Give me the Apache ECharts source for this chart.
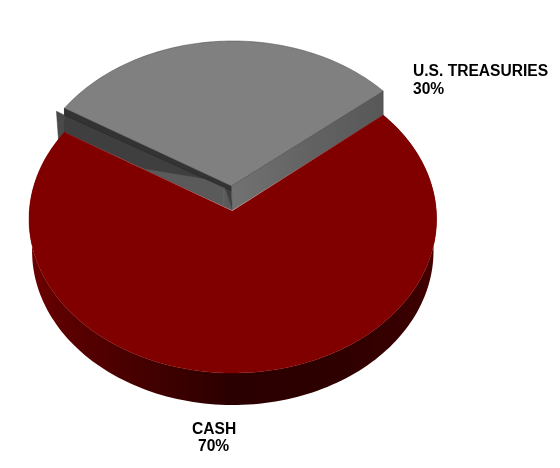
<!DOCTYPE html>
<html><head><meta charset="utf-8">
<style>html,body{margin:0;padding:0;background:#fff}#c{width:560px;height:468px}</style>
<script src="https://cdn.jsdelivr.net/npm/echarts@6/dist/echarts.min.js"></script>
</head><body><div id="c"></div>
<script>
const categories = ['U.S. TREASURIES', 'CASH'];
const shares = [30, 70];
const startDeg = 40.2;

// perspective disc layout
const AX = 232.8, AY = 211, F = 203.5, G = 153.6, K = 0.052;
const LIFT = 25, DEPTH = 32;

function rim(deg, dy, shrink) {
  const t = deg * Math.PI / 180, X = Math.cos(t), Y = Math.sin(t), w = 1 + K * Y;
  return [AX + F * (shrink || 1) * X / w, AY + dy - G * Y / w];
}
function arc(a, b, dy, shrink) {
  const pts = [], n = Math.max(2, Math.ceil(Math.abs(b - a) / 1.5));
  for (let i = 0; i <= n; i++) pts.push(rim(a + (b - a) * i / n, dy, shrink));
  return pts;
}
function poly(points, fill, stroke, lw) {
  return { type: 'polygon', shape: { points }, style: { fill, stroke: stroke || fill, lineWidth: lw === undefined ? 0.6 : lw } };
}
function lerp(p, q, t) { return [p[0] + (q[0] - p[0]) * t, p[1] + (q[1] - p[1]) * t]; }

function renderItem(params, api) {
  const idx = api.value(0), val = api.value(1);
  const total = shares.reduce((s, v) => s + v, 0);
  const sweep = val / total * 360;
  const kids = [];
  if (idx === 0) {
    const a = startDeg, b = startDeg + sweep;
    const apexTop = [AX - 1.5, AY - LIFT], apexLow = [AX - 0.5, AY - 1];
    const rTop = rim(a, -LIFT + 1), rLow = rim(a, 0);
    const lTop = rim(b, -LIFT + 1), lLow = rim(b, 0);
    // flap behind the left corner
    kids.push(poly([[lTop[0] - 8, lTop[1] + 3], [lTop[0], lTop[1] + 7], [lLow[0] + 1, lLow[1]], [lLow[0] - 6, lLow[1] + 7]], '#4a4a4a', '#3a3a3a', 0.5));
    // left inner wall
    kids.push(poly([lTop, apexTop, apexLow, lLow], '#3f3f3f', '#3f3f3f', 0.5));
    // lighter wedge on the wall
    kids.push(poly([lerp(lLow, apexLow, 0.47), lerp(lTop, apexTop, 0.95), apexLow, lerp(lLow, apexLow, 0.6)], '#5a5a5a', '#5a5a5a', 0.3));
    // narrow dark band under the top edge
    kids.push(poly([lTop, apexTop, lerp(apexTop, apexLow, 0.2), [lTop[0], lTop[1] + 7]], '#333333', '#262626', 0.5));
    // seam at the apex
    kids.push({ type: 'line', shape: { x1: AX - 9, y1: AY - 21, x2: AX - 9, y2: AY - 4 }, style: { stroke: '#6a6a6a', lineWidth: 0.7 } });
    // right wall
    kids.push({ type: 'polygon', shape: { points: [apexTop, rTop, rLow, apexLow] }, style: {
      fill: { type: 'linear', x: 0, y: 0, x2: 1, y2: 0, colorStops: [{ offset: 0, color: '#727272' }, { offset: 0.5, color: '#636363' }, { offset: 1, color: '#585858' }] },
      stroke: '#444', lineWidth: 0.5 } });
    // top face
    kids.push(poly([apexTop].concat(arc(a, b, -LIFT + 1)), '#808080', '#4a4a4a', 0.5));
  } else {
    const from = startDeg + (shares[0] / total) * 360, to = from + sweep;
    // side wall
    const wall = arc(from, to, 0).concat(arc(to, from, DEPTH, 0.985));
    kids.push({ type: 'polygon', shape: { points: wall }, style: {
      fill: { type: 'linear', x: 0, y: 0, x2: 1, y2: 0, colorStops: [
        { offset: 0, color: '#6e0000' }, { offset: 0.08, color: '#5c0000' }, { offset: 0.3, color: '#420000' },
        { offset: 0.5, color: '#2b0000' }, { offset: 0.75, color: '#2e0000' }, { offset: 0.95, color: '#3a0000' }, { offset: 1, color: '#480000' }] },
      stroke: 'none' } });
    kids.push(poly([[AX - 0.5, AY]].concat(arc(from, to, 0)), '#800000', '#800000', 0.4));
  }
  return { type: 'group', children: kids };
}

const LABEL_FONT = 'bold 15.6px "Liberation Sans", Arial, sans-serif';
const chart = echarts.init(document.getElementById('c'), null, { renderer: 'canvas' });
chart.setOption({
  animation: false,
  backgroundColor: '#ffffff',
  series: [{
    type: 'custom',
    coordinateSystem: 'none',
    silent: true,
    renderItem,
    data: categories.map((c, i) => [i, shares[i]])
  }],
  graphic: [
    { type: 'text', left: 413, top: 63, style: { text: categories[0] + '\n' + shares[0] + '%', font: LABEL_FONT, fill: '#000', lineHeight: 18, align: 'left' } },
    { type: 'text', left: 192, top: 421, style: { text: categories[1], font: LABEL_FONT, fill: '#000', lineHeight: 17 } },
    { type: 'text', left: 198, top: 438, style: { text: shares[1] + '%', font: LABEL_FONT, fill: '#000', lineHeight: 17 } }
  ]
});
</script></body></html>
